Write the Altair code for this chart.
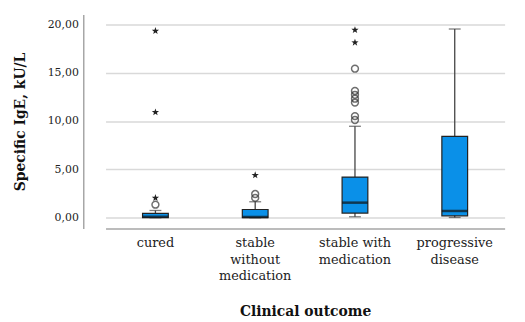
import altair as alt
import pandas as pd

categories = ["cured", "stable without medication", "stable with medication", "progressive disease"]
cat_labels = ["cured", "stable|without|medication", "stable with|medication", "progressive|disease"]
whisker_low = [0.0, 0.0, 0.1, 0.03]
q1 = [0.0, 0.0, 0.48, 0.2]
median = [0.1, 0.08, 1.56, 0.7]
q3 = [0.45, 0.85, 4.2, 8.4]
whisker_high = [0.75, 1.65, 9.45, 19.5]

circle_cat = ["cured", "stable without medication", "stable without medication",
              "stable with medication", "stable with medication", "stable with medication",
              "stable with medication", "stable with medication", "stable with medication",
              "stable with medication"]
circle_val = [1.35, 2.05, 2.45, 10.1, 10.5, 11.9, 12.3, 12.7, 13.1, 15.4]

star_cat = ["cured", "cured", "cured", "stable without medication",
            "stable with medication", "stable with medication"]
star_val = [2.05, 10.9, 19.3, 4.4, 18.1, 19.4]

box_df = pd.DataFrame({"cat": categories, "lo": whisker_low, "q1": q1,
                       "med": median, "q3": q3, "hi": whisker_high})
circ_df = pd.DataFrame({"cat": circle_cat, "v": circle_val})
star_df = pd.DataFrame({"cat": star_cat, "v": star_val})

label_js = "{" + ",".join(f"'{c}':'{l}'" for c, l in zip(categories, cat_labels)) + "}"

FONT = "DejaVu Serif"
W = 438
x = alt.X("cat:N", sort=categories, title="Clinical outcome",
          scale=alt.Scale(range=[22.5, 425.5], paddingInner=0, paddingOuter=0),
          axis=alt.Axis(labelAngle=0, ticks=False, domainColor="#a6a6a6", domainWidth=1.5,
                        labelPadding=8, labelLineHeight=17, labelFontSize=13,
                        labelFont=FONT,
                        labelExpr=f"split({label_js}[datum.value], '|')",
                        titlePadding=22, titleFontSize=14))
yscale = alt.Scale(domain=[-1.1, 21.0], nice=False, zero=False)
yaxis = alt.Axis(values=[0, 5, 10, 15, 20], ticks=False, grid=True, gridColor="#d9d9d9",
                 gridWidth=1.5, domainColor="#a6a6a6", domainWidth=1.5,
                 labelFontSize=11, labelPadding=5, labelFont=FONT,
                 labelExpr="replace(format(datum.value, '.2f'), '.', ',')",
                 title="Specific IgE, kU/L", titleFontSize=14, titlePadding=20)

base = alt.Chart(box_df)
whisk = base.mark_rule(color="#444", strokeWidth=1.3).encode(
    x=x, y=alt.Y("lo:Q", scale=yscale, axis=yaxis), y2="hi:Q")
cap_hi = base.mark_tick(color="#444", size=12, thickness=1.3).encode(x=x, y="hi:Q")
cap_lo = base.mark_tick(color="#444", size=12, thickness=1.3).encode(x=x, y="lo:Q")
box = base.mark_bar(size=26, fill="#0a90e8", stroke="#222", strokeWidth=1.2).encode(
    x=x, y="q1:Q", y2="q3:Q")
med = base.mark_tick(color="#111", size=26, thickness=2.5).encode(x=x, y="med:Q")

circ = alt.Chart(circ_df).mark_point(shape="circle", filled=False, color="#333",
                                     size=48, strokeWidth=1.5).encode(x=x, y="v:Q")
STAR = ("M0,-1L0.235,-0.324L0.951,-0.309L0.380,0.124L0.588,0.809L0,0.4"
        "L-0.588,0.809L-0.380,0.124L-0.951,-0.309L-0.235,-0.324Z")
star = alt.Chart(star_df).mark_point(shape=STAR, filled=True, color="#222",
                                     size=60, opacity=1).encode(x=x, y="v:Q")

chart = alt.layer(whisk, cap_hi, cap_lo, box, med, circ, star).properties(
    width=W, height=216, background="white",
    padding={"left": 5, "top": 5, "right": 0, "bottom": 5}
).configure_view(stroke=None).configure_axis(
    labelColor="#222", titleFont=FONT, titleFontWeight="bold",
    titleColor="#111"
)

chart.save("out.html", embed_options={"renderer": "svg", "actions": False})
